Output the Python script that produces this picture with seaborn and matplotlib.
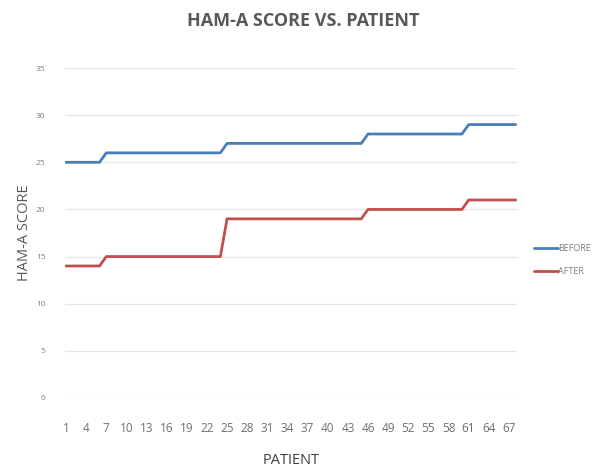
import matplotlib
matplotlib.use("Agg")
import matplotlib.pyplot as plt
import seaborn as sns
import pandas as pd
from matplotlib.lines import Line2D

patients = [1, 2, 3, 4, 5, 6, 7, 8, 9, 10, 11, 12, 13, 14, 15, 16, 17, 18, 19, 20,
            21, 22, 23, 24, 25, 26, 27, 28, 29, 30, 31, 32, 33, 34, 35, 36, 37, 38, 39, 40,
            41, 42, 43, 44, 45, 46, 47, 48, 49, 50, 51, 52, 53, 54, 55, 56, 57, 58, 59, 60,
            61, 62, 63, 64, 65, 66, 67, 68]
before = [25, 25, 25, 25, 25, 25,
          26, 26, 26, 26, 26, 26, 26, 26, 26, 26, 26, 26, 26, 26, 26, 26, 26, 26,
          27, 27, 27, 27, 27, 27, 27, 27, 27, 27, 27, 27, 27, 27, 27, 27, 27, 27, 27, 27, 27,
          28, 28, 28, 28, 28, 28, 28, 28, 28, 28, 28, 28, 28, 28, 28,
          29, 29, 29, 29, 29, 29, 29, 29]
after = [14, 14, 14, 14, 14, 14,
         15, 15, 15, 15, 15, 15, 15, 15, 15, 15, 15, 15, 15, 15, 15, 15, 15, 15,
         19, 19, 19, 19, 19, 19, 19, 19, 19, 19, 19, 19, 19, 19, 19, 19, 19, 19, 19, 19, 19,
         20, 20, 20, 20, 20, 20, 20, 20, 20, 20, 20, 20, 20, 20, 20,
         21, 21, 21, 21, 21, 21, 21, 21]
series_names = ["BEFORE", "AFTER"]
x_ticks = [1, 4, 7, 10, 13, 16, 19, 22, 25, 28, 31, 34, 37, 40, 43, 46, 49, 52, 55, 58, 61, 64, 67]
y_ticks = [0, 5, 10, 15, 20, 25, 30, 35]

df = pd.DataFrame({
    "Patient": patients * 2,
    "Score": before + after,
    "Series": [series_names[0]] * len(before) + [series_names[1]] * len(after),
})

sns.set_style("white")
plt.rcParams["font.family"] = ["Open Sans", "DejaVu Sans"]

fig = plt.figure(figsize=(6.06, 4.69), dpi=100)
ax = fig.add_axes([65 / 606, 1 - 398 / 469, (517 - 65) / 606, (398 - 68) / 469])

sns.lineplot(data=df, x="Patient", y="Score", hue="Series",
             palette={"BEFORE": "#4a7ebb", "AFTER": "#c0504d"},
             linewidth=2.0, ax=ax, legend=False)

ax.set_xlim(0.85, 68.2)
ax.set_ylim(0, 35)
ax.set_yticks(y_ticks)
ax.set_xticks(x_ticks)
ax.set_xticklabels([str(t) for t in x_ticks], fontsize=8.5, color="#6f6f6f")
ax.set_yticklabels([str(t) for t in y_ticks], fontsize=6, color="#7f7f7f")
ax.tick_params(axis="both", length=0)
ax.tick_params(axis="y", pad=14)
ax.tick_params(axis="x", pad=17)
ax.grid(axis="y", color="#e6e6e6", linewidth=0.9)
ax.set_axisbelow(True)
for s in ax.spines.values():
    s.set_visible(False)

ax.set_xlabel("PATIENT", fontsize=10.5, color="#404040", labelpad=13)
ax.set_ylabel("HAM-A SCORE", fontsize=10.5, color="#595959", labelpad=3)
fig.suptitle("HAM-A SCORE VS. PATIENT", x=0.5, y=0.975, fontsize=13,
             fontweight="bold", color="#595959")

handles = [Line2D([0], [0], color="#4a7ebb", lw=2.0),
           Line2D([0], [0], color="#c0504d", lw=2.0)]
fig.legend(handles, series_names, loc="center left",
           bbox_to_anchor=(526 / 606, 1 - 260 / 469), frameon=False,
           fontsize=6.5, labelcolor="#7f7f7f", handlelength=2.6,
           handletextpad=0.1, labelspacing=1.6)

fig.savefig("out.png", dpi=100)
